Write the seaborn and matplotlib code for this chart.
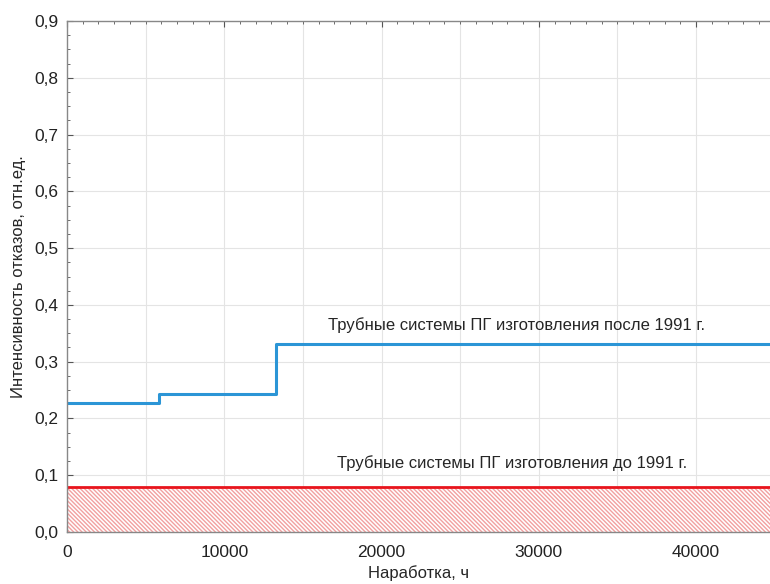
import numpy as np
import pandas as pd
import matplotlib
matplotlib.use("Agg")
import matplotlib.pyplot as plt
import seaborn as sns
from matplotlib.ticker import FuncFormatter, MultipleLocator

# данные
hours_after = [0, 5840, 13270, 44700]
rate_after = [0.227, 0.243, 0.331, 0.331]
hours_before = [0, 44700]
rate_before = [0.079, 0.079]

label_after = "Трубные системы ПГ изготовления после 1991 г."
label_before = "Трубные системы ПГ изготовления до 1991 г."

sns.set_theme(style="white")
plt.rcParams['font.family'] = ['Liberation Sans', 'DejaVu Sans']
plt.rcParams['hatch.linewidth'] = 1.0

fig = plt.figure(figsize=(7.7, 5.84), dpi=100)
ax = fig.add_axes([0.087, 0.089, 0.913, 0.875])

df_after = pd.DataFrame({"h": hours_after, "r": rate_after})
df_before = pd.DataFrame({"h": hours_before, "r": rate_before})

ax.fill_between(hours_before, 0, rate_before, facecolor="white",
                edgecolor="#f2a0a0", hatch="\\\\\\\\\\\\\\\\", linewidth=0)
sns.lineplot(data=df_after, x="h", y="r", ax=ax, color="#2b95d6",
             linewidth=2.2, drawstyle="steps-post")
sns.lineplot(data=df_before, x="h", y="r", ax=ax, color="#e8141c",
             linewidth=2)

ax.text(28570, 0.364, label_after, ha="center", va="center", fontsize=12)
ax.text(28300, 0.121, label_before, ha="center", va="center", fontsize=12)

ax.set_xlim(0, 44700)
ax.set_ylim(0, 0.9)
ax.xaxis.set_major_locator(MultipleLocator(10000))
ax.xaxis.set_minor_locator(MultipleLocator(1000))
ax.yaxis.set_major_locator(MultipleLocator(0.1))
ax.yaxis.set_minor_locator(MultipleLocator(0.025))
ax.yaxis.set_major_formatter(FuncFormatter(lambda v, p: f"{v:.1f}".replace(".", ",")))

for v in np.arange(5000, 45000, 5000):
    ax.axvline(v, color="#e4e4e4", linewidth=0.8, zorder=0)
for v in np.arange(0.1, 0.9, 0.1):
    ax.axhline(v, color="#e4e4e4", linewidth=0.8, zorder=0)

ax.tick_params(which="both", direction="in", top=True, bottom=True, left=True,
               colors="#555555", labelcolor="#222222", labelsize=12.5)
ax.tick_params(which="major", length=4, width=0.8)
ax.tick_params(which="minor", length=2, width=0.6)
ax.tick_params(axis="x", which="major", pad=9)
ax.tick_params(axis="y", which="major", pad=6)
for s in ax.spines.values():
    s.set_color("#888888")
    s.set_linewidth(1)
ax.spines["right"].set_visible(False)

ax.set_xlabel("Наработка, ч", fontsize=12, labelpad=4)
ax.set_ylabel("Интенсивность отказов, отн.ед.", fontsize=12, labelpad=6)

fig.savefig("out.png", dpi=100)
